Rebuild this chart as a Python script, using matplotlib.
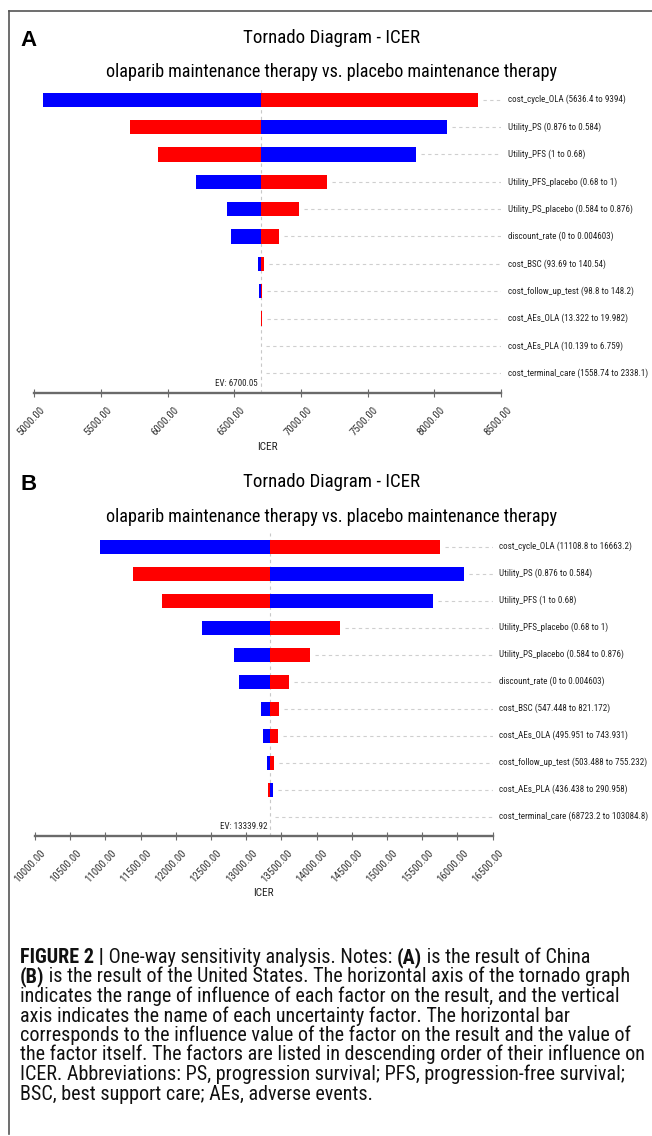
import matplotlib
matplotlib.use('Agg')
import matplotlib.pyplot as plt
from matplotlib import font_manager
from matplotlib.font_manager import FontProperties
from matplotlib.lines import Line2D
from matplotlib.transforms import ScaledTranslation

# ---- data ----
factors_a = ['cost_cycle_OLA (5636.4 to 9394)', 'Utility_PS (0.876 to 0.584)',
             'Utility_PFS (1 to 0.68)', 'Utility_PFS_placebo (0.68 to 1)',
             'Utility_PS_placebo (0.584 to 0.876)', 'discount_rate (0 to 0.004603)',
             'cost_BSC (93.69 to 140.54)', 'cost_follow_up_test (98.8 to 148.2)',
             'cost_AEs_OLA (13.322 to 19.982)', 'cost_AEs_PLA (10.139 to 6.759)',
             'cost_terminal_care (1558.74 to 2338.1)']
ev_a = 6700.05
low_a = [5067, 8094, 7863, 6211, 6443, 6476, 6676, 6686, 6700.05, 6703, 6700.05]   # blue
high_a = [8331, 5718, 5930, 7198, 6983, 6838, 6723, 6708, 6704, 6700.05, 6700.05]   # red
ticks_a = [5000, 5500, 6000, 6500, 7000, 7500, 8000, 8500]

factors_b = ['cost_cycle_OLA (11108.8 to 16663.2)', 'Utility_PS (0.876 to 0.584)',
             'Utility_PFS (1 to 0.68)', 'Utility_PFS_placebo (0.68 to 1)',
             'Utility_PS_placebo (0.584 to 0.876)', 'discount_rate (0 to 0.004603)',
             'cost_BSC (547.448 to 821.172)', 'cost_AEs_OLA (495.951 to 743.931)',
             'cost_follow_up_test (503.488 to 755.232)', 'cost_AEs_PLA (436.438 to 290.958)',
             'cost_terminal_care (68723.2 to 103084.8)']
ev_b = 13339.92
low_b = [10928, 16098, 15649, 12368, 12827, 12893, 13214, 13234, 13291, 13376, 13339.92]
high_b = [15753, 11387, 11808, 14337, 13906, 13612, 13470, 13447, 13395, 13310, 13339.92]
ticks_b = list(range(10000, 16501, 500))

title = 'Tornado Diagram - ICER'
subtitle = 'olaparib maintenance therapy vs. placebo maintenance therapy'

caption = [
    [('FIGURE 2 |', True), (' One-way sensitivity analysis. Notes: ', False), ('(A)', True),
     (' is the result of China', False)],
    [('(B)', True), (' is the result of the United States. The horizontal axis of the tornado graph', False)],
    [('indicates the range of influence of each factor on the result, and the vertical', False)],
    [('axis indicates the name of each uncertainty factor. The horizontal bar', False)],
    [('corresponds to the influence value of the factor on the result and the value of', False)],
    [('the factor itself. The factors are listed in descending order of their influence on', False)],
    [('ICER. Abbreviations: PS, progression survival; PFS, progression-free survival;', False)],
    [('BSC, best support care; AEs, adverse events.', False)],
]


def narrow_font(bold=False):
    # look for an installed narrow / condensed sans face, else plain Liberation Sans
    prefs = ['Liberation Sans Narrow', 'Roboto Condensed', 'Open Sans Condensed',
             'Noto Sans', 'DejaVu Sans', 'Open Sans', 'Roboto']
    found = {}
    for f in font_manager.fontManager.ttflist:
        fn = f.fname.split('/')[-1]
        if not ('Narrow' in fn or 'Condensed' in fn or f.stretch == 'condensed'):
            continue
        if 'Semi' in fn or 'Extra' in fn or 'Ultra' in fn or f.style != 'normal':
            continue
        w = f.weight if isinstance(f.weight, int) else (700 if f.weight == 'bold' else 400)
        if (w >= 600) != bold:
            continue
        if bold and w > 750:
            continue
        if not bold and w != 400:
            continue
        found.setdefault(f.name, f.fname)
    for p in prefs:
        if p in found:
            return FontProperties(fname=found[p])
    return FontProperties(family=['Liberation Sans', 'DejaVu Sans'],
                          weight='bold' if bold else 'normal')


fp = narrow_font()
fp_bold = narrow_font(True)

W, H = 652, 1136
fig = plt.figure(figsize=(W / 100, H / 100), dpi=100)
renderer = fig.canvas.get_renderer()


def fx(px):
    return px / W


def fy(py):
    return 1 - py / H


def fit(t, target):
    w = t.get_window_extent(renderer).width
    t.set_fontsize(t.get_fontsize() * target / w)
    return t.get_fontsize()


# outer frame
fig.add_artist(Line2D([fx(9), fx(652)], [fy(11), fy(11)], color='#555555', lw=1.2))
fig.add_artist(Line2D([fx(9), fx(9)], [fy(11), fy(1134)], color='#555555', lw=1.2))

probe = fig.text(0, 0, factors_a[0], fontproperties=fp, fontsize=8)
lab_size = fit(probe, 118)
probe.remove()


def tornado(box, letter, factors, ev, low, high, ticks, top_rows, label_y):
    left, right, top, axis_y, row0, row_last = box
    ax = fig.add_axes([fx(left), fy(axis_y), fx(right) - fx(left), (axis_y - top) / H])
    n = len(factors)
    step = (row_last - row0) / (n - 1)
    ax.set_xlim(ticks[0], ticks[-1])
    ax.set_ylim(n - 1 + (axis_y - row_last) / step, -(row0 - top) / step)
    span = ticks[-1] - ticks[0]
    gap = 5 / (right - left) * span
    shift = ScaledTranslation(6.5 / 100, 0, fig.dpi_scale_trans)
    for i in range(n):
        for val, col in ((low[i], '#0000ff'), (high[i], '#ff0000')):
            if val != ev:
                ax.barh(i, abs(val - ev), left=min(val, ev), height=0.52, color=col,
                        edgecolor='none', zorder=3)
        end = max(low[i], high[i], ev)
        ax.hlines(i, end + gap, ticks[-1], colors='#cfcfcf', linestyles=(0, (3, 3)),
                  lw=0.8, zorder=1)
        ax.text(1, i, factors[i], transform=ax.get_yaxis_transform() + shift,
                fontproperties=fp, fontsize=lab_size, color='#222222',
                va='center', ha='left', clip_on=False)
    ax.axvline(ev, color='#c8c8c8', ls=(0, (3, 3)), lw=0.8, zorder=2)
    ax.text(ev, n - 1 + 0.36, 'EV: %.2f' % ev, fontproperties=fp, fontsize=lab_size,
            color='#222222', ha='right', va='center',
            transform=ax.transData + ScaledTranslation(-3 / 100, 0, fig.dpi_scale_trans))

    for s in ('top', 'right', 'left'):
        ax.spines[s].set_visible(False)
    ax.spines['bottom'].set_color('#6a6a6a')
    ax.spines['bottom'].set_linewidth(1.7)
    ax.set_yticks([])
    ax.set_xticks(ticks)
    ax.set_xticklabels(['%.2f' % v for v in ticks])
    ax.tick_params(axis='x', direction='inout', length=6, width=0.8, color='#6a6a6a',
                   pad=8, labelcolor='#333333')
    for lab in ax.get_xticklabels():
        lab.set_fontproperties(fp)
        lab.set_fontsize(lab_size * 1.2)
        lab.set_rotation(47)
        lab.set_rotation_mode('anchor')
        lab.set_ha('right')
        lab.set_va('center')
        lab.set_transform(lab.get_transform() + ScaledTranslation(9 / 100, 0, fig.dpi_scale_trans))
    ax.set_xlabel('ICER', fontproperties=fp, fontsize=lab_size * 1.25, color='#222222')
    ax.xaxis.set_label_coords(0.5, -(label_y - axis_y) / (axis_y - top))
    ax.xaxis.label.set_va('center')
    ax.patch.set_visible(False)

    t_y, s_y = top_rows
    fig.text(fx(20), fy(t_y + 3), letter, fontsize=16, fontweight='bold',
             family=['Liberation Sans', 'DejaVu Sans'], va='baseline', ha='left')
    tt = fig.text(fx(332), fy(t_y), title, fontproperties=fp, va='baseline', ha='center',
                  fontsize=12)
    fit(tt, 176)
    st = fig.text(fx(332), fy(s_y), subtitle, fontproperties=fp, va='baseline', ha='center',
                  fontsize=12)
    fit(st, 452)
    return ax


tornado((34.3, 501, 88, 393.3, 99.7, 373.3), 'A', factors_a, ev_a, low_a, high_a,
        ticks_a, (42.7, 77.3), 447)
tornado((35, 492.6, 533, 836, 546.7, 816.7), 'B', factors_b, ev_b, low_b, high_b,
        ticks_b, (487, 521.5), 893)


# caption with bold pieces: pick a size that keeps the widest line inside the frame
def line_width(line, size):
    total = 0
    for txt, bold in line:
        t = fig.text(0, 0, txt, fontproperties=fp_bold if bold else fp, fontsize=size)
        total += t.get_window_extent(renderer).width
        t.remove()
    return total


widest = max(line_width(line, 12) for line in caption)
cap_size = 12 * min(628 / widest, 626 / line_width(caption[2], 12))

for k, line in enumerate(caption):
    y = 963 + 19.5 * k
    x = 20
    for txt, bold in line:
        t = fig.text(fx(x), fy(y), txt, fontproperties=fp_bold if bold else fp,
                     fontsize=cap_size, va='baseline', ha='left', color='#111111')
        x += t.get_window_extent(renderer).width

fig.savefig('out.png', dpi=100)
